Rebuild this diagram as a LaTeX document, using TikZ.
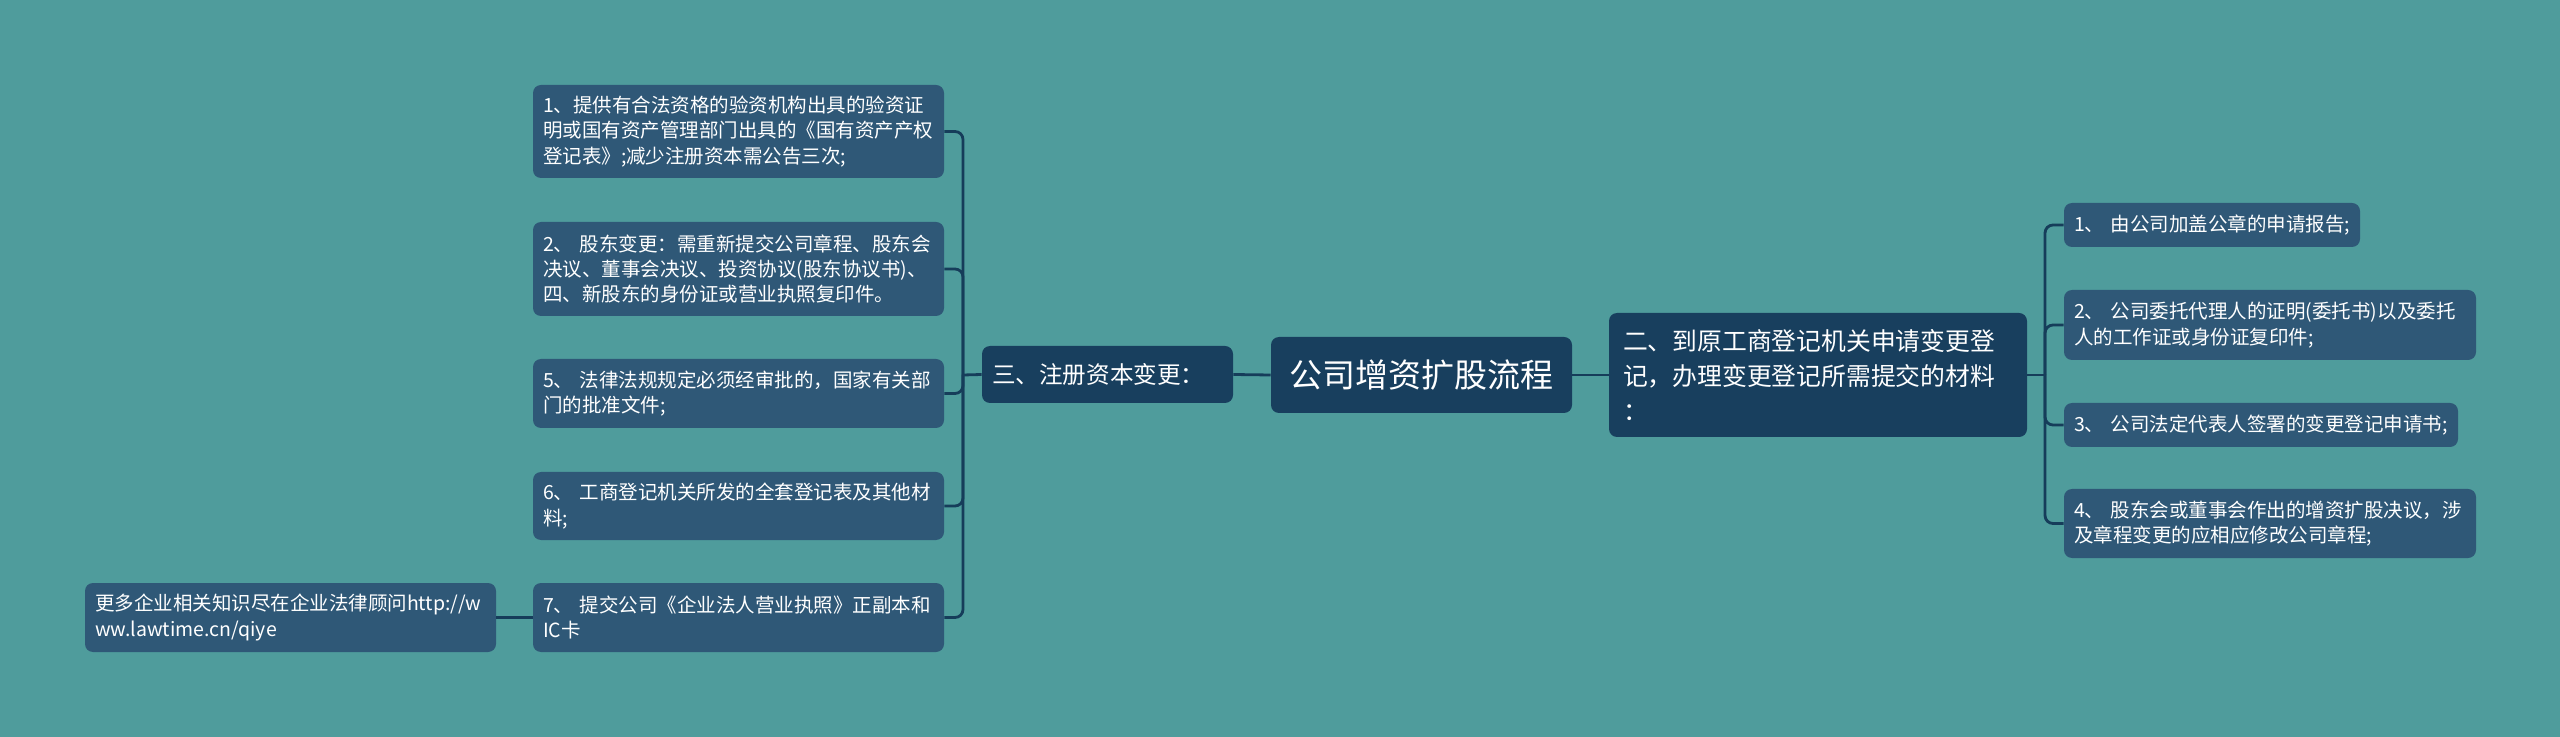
\documentclass[tikz,border=0pt]{standalone}
\usepackage{fontspec}
\setmainfont{Noto Sans CJK SC}
\definecolor{bgc}{HTML}{4F9C9C}
\definecolor{leafc}{HTML}{2F5877}
\definecolor{mainc}{HTML}{183F5E}
\definecolor{linec}{HTML}{163D5A}
\begin{document}
\begin{tikzpicture}[x=0.5pt,y=-0.5pt,
  box/.style={rounded corners=4pt, inner xsep=5pt, inner ysep=0pt, text=white, align=left, anchor=center},
  leaf/.style={box, fill=leafc, font=\fontsize{9.75}{12.7}\selectfont},
  mainbox/.style={box, fill=mainc},
  link/.style={draw=linec, line width=1.4pt},
  branch/.style={link, rounded corners=4pt}]
\useasboundingbox[fill=bgc] (0,0) rectangle (2560,737);

% root and first level
\node[mainbox, text width=140.5pt, minimum height=38pt, align=center, font=\fontsize{16.5}{20}\selectfont] (root) at (1421.5,375) {公司增资扩股流程};
\node[mainbox, text width=115.5pt, minimum height=28.5pt, font=\fontsize{11.8}{15}\selectfont] (s3) at (1107.5,374.5) {三、注册资本变更：};
\node[mainbox, inner xsep=7pt, text width=195pt, minimum height=62pt, font=\fontsize{12.4}{17.5}\selectfont] (s2) at (1818,375) {二、到原工商登记机关申请变更登\\记，办理变更登记所需提交的材料\\：};

% left leaves
\node[leaf, text width=195.5pt, minimum height=46.5pt] (L1) at (738.5,131.5) {1、提供有合法资格的验资机构出具的验资证\\明或国有资产管理部门出具的《国有资产产权\\登记表》;减少注册资本需公告三次;};
\node[leaf, text width=195.5pt, minimum height=47pt] (L2) at (738.5,269) {2、~股东变更：需重新提交公司章程、股东会\\决议、董事会决议、投资协议(股东协议书)、\\四、新股东的身份证或营业执照复印件。};
\node[leaf, text width=195.5pt, minimum height=34.5pt] (L5) at (738.5,393.5) {5、~法律法规规定必须经审批的，国家有关部\\门的批准文件;};
\node[leaf, text width=195.5pt, minimum height=34pt] (L6) at (738.5,506) {6、~工商登记机关所发的全套登记表及其他材\\料;};
\node[leaf, text width=195.5pt, minimum height=34.5pt] (L7) at (738.5,617.5) {7、~提交公司《企业法人营业执照》正副本和\\IC卡};
\node[leaf, text width=195.5pt, minimum height=34.5pt] (FL) at (290.5,617.5) {更多企业相关知识尽在企业法律顾问http://w\\ww.lawtime.cn/qiye};

% right leaves
\node[leaf, text width=138pt, minimum height=22pt] (R1) at (2212,225) {1、~由公司加盖公章的申请报告;};
\node[leaf, text width=196pt, minimum height=35pt] (R2) at (2270,325) {2、~公司委托代理人的证明(委托书)以及委托\\人的工作证或身份证复印件;};
\node[leaf, text width=187pt, minimum height=22pt] (R3) at (2261,425) {3、~公司法定代表人签署的变更登记申请书;};
\node[leaf, text width=196pt, minimum height=34.5pt] (R4) at (2270,523.5) {4、~股东会或董事会作出的增资扩股决议，涉\\及章程变更的应相应修改公司章程;};

% junctions
\coordinate (jL) at (963,375);
\coordinate (jR) at (2045,375);

% connectors
\draw[link] (root.west) -- (s3.east);
\draw[link] (root.east) -- (s2.west);
\draw[link] (s3.west) -- (jL);
\draw[link] (s2.east) -- (jR);
\foreach \n in {L1,L2,L5,L6,L7} \draw[branch] (jL) |- (\n.east);
\foreach \n in {R1,R2,R3,R4} \draw[branch] (jR) |- (\n.west);
\draw[link] (L7.west) -- (FL.east);
\end{tikzpicture}
\end{document}
